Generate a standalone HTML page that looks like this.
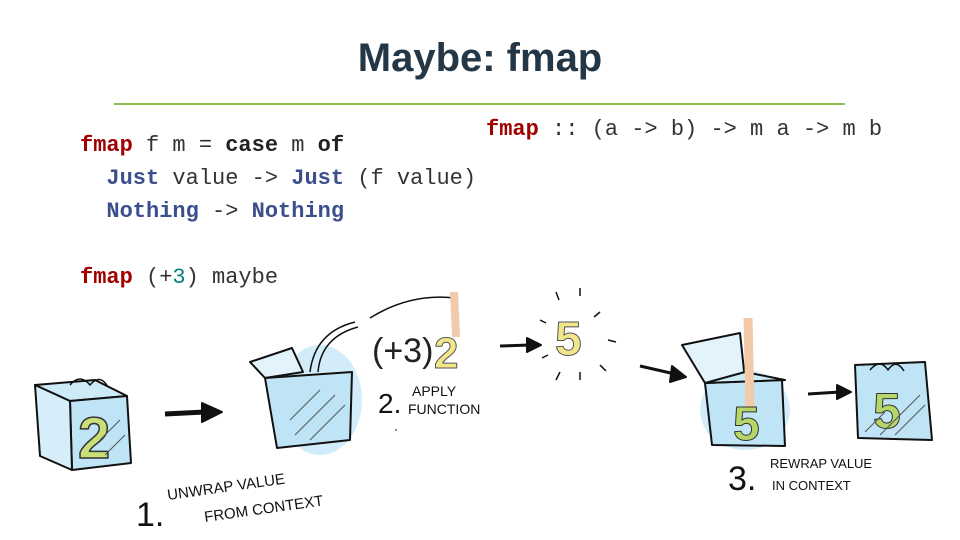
<!DOCTYPE html>
<html><head><meta charset="utf-8"><style>
body{margin:0;width:960px;height:540px;background:#fff;position:relative;overflow:hidden;font-family:"Liberation Sans",sans-serif}
.t{position:absolute;left:0;width:960px;top:36px;text-align:center;font-size:40px;font-weight:bold;color:#243746}
.hr{position:absolute;left:114px;width:731px;top:103px;height:2px;background:#8bc34a}
.c{position:absolute;font-family:"Liberation Mono",monospace;font-size:22px;color:#333;white-space:pre;line-height:33px}
.k{color:#a00000;font-weight:bold}.b{font-weight:bold;color:#222}.j{color:#3b4f8c;font-weight:bold}.n{color:#008080}
svg{position:absolute;left:0;top:0}
</style></head><body>
<div class="t">Maybe: fmap</div>
<div class="hr"></div>
<div class="c" style="left:80px;top:129px"><span class="k">fmap</span> f m = <span class="b">case</span> m <span class="b">of</span>
  <span class="j">Just</span> value -&gt; <span class="j">Just</span> (f value)
  <span class="j">Nothing</span> -&gt; <span class="j">Nothing</span>

<span class="k">fmap</span> (+<span class="n">3</span>) maybe</div>
<div class="c" style="left:486px;top:113px"><span class="k">fmap</span> :: (a -&gt; b) -&gt; m a -&gt; m b</div>
<svg width="960" height="540" viewBox="0 0 960 540" fill="none" stroke="#111" stroke-width="2" stroke-linejoin="round" font-family="Liberation Sans,sans-serif">
<!-- box1 -->
<polygon points="35,385 95,380 127,396 70,401" fill="#cdeaf7"/>
<polygon points="70,401 127,396 131,463 72,470" fill="#bfe4f5"/>
<polygon points="35,385 70,401 72,470 40,456" fill="#d5eef9"/>
<text x="78" y="458" font-size="58" font-weight="bold" fill="#c8df7a" stroke="#333" stroke-width="1.5">2</text>
<path d="M100,440 l20,-20 M105,455 l20,-20" stroke="#555" stroke-width="1"/>
<path d="M70,385 q10,-12 20,0 q10,-12 18,2" stroke-width="1.5"/>
<!-- arrow1 -->
<path d="M165,414 L205,412" stroke-width="5"/><polygon points="202,403 222,412 202,422" fill="#111"/>
<!-- box2 -->
<ellipse cx="320" cy="400" rx="42" ry="55" fill="#d3ecfa" stroke="none"/>
<polygon points="250,362 292,348 303,372 265,378" fill="#e3f3fb"/>
<polygon points="265,378 352,372 350,440 277,448" fill="#bfe4f5"/>
<path d="M310,372 q5,-40 45,-50 M318,372 q3,-35 40,-45" stroke-width="1.5"/>
<path d="M290,420 l30,-30 M295,435 l40,-40 M310,440 l35,-35" stroke="#555" stroke-width="1"/>
<!-- (+3)2 -->
<path d="M370,318 q40,-25 85,-20" stroke-width="1.5"/>
<path d="M454,292 l2,45" stroke="#f2c9a9" stroke-width="8"/>
<text x="372" y="362" font-size="34" fill="#222" stroke="none">(+3)</text>
<text x="434" y="368" font-size="44" font-weight="bold" fill="#f2e68b" stroke="#555" stroke-width="1">2</text>
<text x="378" y="413" font-size="28" fill="#111" stroke="none">2.</text>
<text x="412" y="396" font-size="14" fill="#111" stroke="none">APPLY</text>
<text x="408" y="414" font-size="14" fill="#111" stroke="none">FUNCTION</text>
<path d="M395,430 l2,0" stroke="#888"/>
<!-- arrow2 -->
<path d="M500,346 L530,345" stroke-width="3"/><polygon points="527,338 541,345 527,352" fill="#111"/>
<text x="555" y="355" font-size="48" font-weight="bold" fill="#f2e68b" stroke="#555" stroke-width="1">5</text>
<path d="M556,292 l3,8 M580,288 l0,8 M600,312 l-6,5 M608,340 l8,2 M600,365 l6,6 M580,372 l0,8 M560,372 l-4,8 M548,355 l-6,3 M540,320 l6,3" stroke-width="1.5"/>
<!-- arrow3 -->
<path d="M640,366 L675,374" stroke-width="3"/><polygon points="672,366 686,377 670,382" fill="#111"/>
<!-- box3 -->
<ellipse cx="745" cy="410" rx="45" ry="40" fill="#d3ecfa" stroke="none"/>
<polygon points="682,345 740,333 745,380 705,383" fill="#e3f3fb"/>
<polygon points="705,383 782,380 785,446 712,445" fill="#bfe4f5"/>
<polygon points="705,383 745,372 785,380" fill="#cdeaf7"/>
<path d="M748,318 l2,90" stroke="#f2c9a9" stroke-width="9"/>
<text x="733" y="440" font-size="48" font-weight="bold" fill="#b6d66a" stroke="#333" stroke-width="1">5</text>
<text x="728" y="490" font-size="34" fill="#111" stroke="none">3.</text>
<text x="770" y="468" font-size="13" fill="#111" stroke="none">REWRAP VALUE</text>
<text x="772" y="490" font-size="13" fill="#111" stroke="none">IN CONTEXT</text>
<!-- arrow4 -->
<path d="M808,394 L840,392" stroke-width="3"/><polygon points="837,385 851,392 837,399" fill="#111"/>
<!-- box4 -->
<polygon points="855,365 925,362 932,440 858,438" fill="#bfe4f5"/>
<text x="873" y="428" font-size="50" font-weight="bold" fill="#b6d66a" stroke="#333" stroke-width="1">5</text>
<path d="M895,435 l30,-30 M880,435 l40,-40 M865,432 l20,-20" stroke="#555" stroke-width="1"/>
<path d="M870,370 q10,-12 18,0 q8,-12 16,1" stroke-width="1.5"/>
<!-- labels 1 -->
<text x="136" y="526" font-size="34" fill="#111" stroke="none">1.</text>
<text x="168" y="500" font-size="15" fill="#111" stroke="none" transform="rotate(-8 168 500)">UNWRAP VALUE</text>
<text x="205" y="522" font-size="15" fill="#111" stroke="none" transform="rotate(-8 205 522)">FROM CONTEXT</text>
</svg>
</body></html>
